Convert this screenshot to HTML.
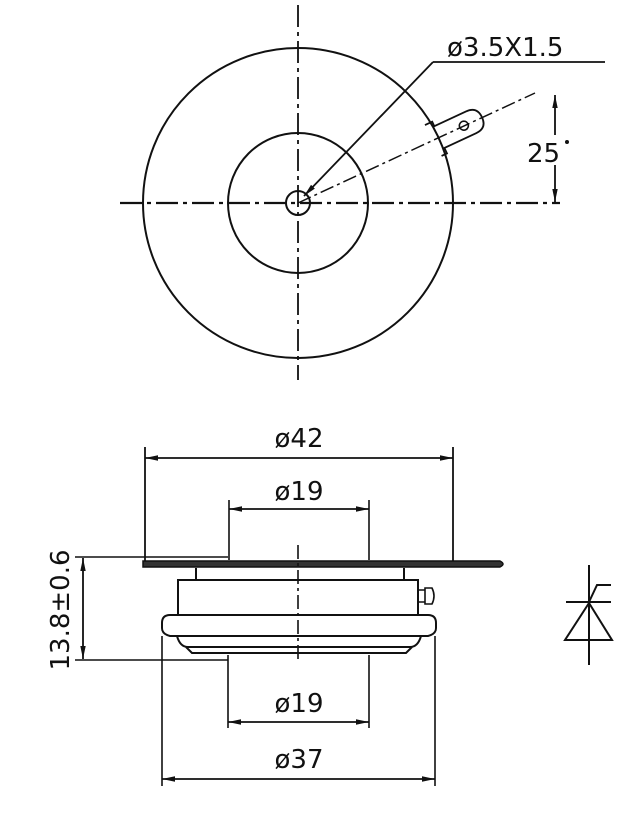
<!DOCTYPE html>
<html><head><meta charset="utf-8"><style>
html,body{margin:0;padding:0;background:#fff;}
svg{display:block;}
text{font-family:"DejaVu Sans","Liberation Sans",sans-serif;fill:#111;}
</style></head><body>
<svg width="644" height="834" viewBox="0 0 644 834" xmlns="http://www.w3.org/2000/svg">
<defs>
<marker id="a" markerWidth="13" markerHeight="8" refX="13" refY="4" orient="auto-start-reverse" markerUnits="userSpaceOnUse"><path d="M0,1.3 L13,4 L0,6.7 Z" fill="#111"/></marker>
</defs>
<g stroke="#111" fill="none" stroke-width="2">
<!-- top view -->
<circle cx="298" cy="203" r="155"/>
<circle cx="298" cy="203" r="70"/>
<circle cx="298" cy="203" r="12"/>
<line x1="120" y1="203" x2="560" y2="203" stroke-dasharray="22,5,4,5" stroke-width="2.2"/>
<line x1="298" y1="5" x2="298" y2="380" stroke-dasharray="22,5,4,5" stroke-width="1.8"/>
<line x1="298" y1="203" x2="535" y2="93" stroke-dasharray="14,4,3,4" stroke-width="1.5"/>
<g transform="rotate(-25 298 203)">
<path d="M446,186 L454,186 L454,191 L489,191 Q501,191 501,203 Q501,215 489,215 L454,215 L454,221 L448,221" stroke-width="1.8"/>
<circle cx="481" cy="203" r="4.5" stroke-width="1.6"/>
</g>
<!-- leader -->
<line x1="304" y1="196" x2="433" y2="62" marker-start="url(#a)" stroke-width="1.8"/>
<line x1="433" y1="62" x2="605" y2="62" stroke-width="1.8"/>
<!-- 25 dim -->
<line x1="555" y1="95" x2="555" y2="135" marker-start="url(#a)" stroke-width="1.8"/>
<line x1="555" y1="165" x2="555" y2="202" marker-end="url(#a)" stroke-width="1.8"/>
<!-- side view dims -->
<line x1="145" y1="447" x2="145" y2="565" stroke-width="1.8"/>
<line x1="453" y1="447" x2="453" y2="565" stroke-width="1.8"/>
<line x1="145" y1="458" x2="453" y2="458" marker-start="url(#a)" marker-end="url(#a)" stroke-width="1.8"/>
<line x1="229" y1="500" x2="229" y2="560" stroke-width="1.6"/>
<line x1="369" y1="500" x2="369" y2="560" stroke-width="1.6"/>
<line x1="229" y1="509" x2="369" y2="509" marker-start="url(#a)" marker-end="url(#a)" stroke-width="1.8"/>
<!-- flange -->
<path d="M143,561 L500,561 Q506,564 500,567 L143,567 Z" fill="#333" stroke-width="1.5"/>
<line x1="143" y1="557" x2="228" y2="557" stroke-width="1.6"/>
<line x1="75" y1="557" x2="143" y2="557" stroke-width="1.6"/>
<line x1="298" y1="545" x2="298" y2="660" stroke-dasharray="14,4,3,4" stroke-width="1.6"/>
<!-- body -->
<line x1="196" y1="568" x2="196" y2="580"/>
<line x1="404" y1="568" x2="404" y2="580"/>
<path d="M178,615 L178,580 L418,580 L418,615"/>
<path d="M418,590 L425,590 M418,602 L425,602 M425,588 L425,604 L432,604 Q436,596 432,588 Z" stroke-width="1.6"/>
<path d="M170,615 L428,615 Q436,615 436,623 L436,628 Q436,634 428,636 L170,636 Q162,634 162,628 L162,623 Q162,615 170,615 Z"/>
<path d="M177,636 Q180,647 188,647 L410,647 Q418,647 421,636"/>
<path d="M186,647 L192,653 L406,653 L412,647"/>
<!-- height dim -->
<line x1="75" y1="660" x2="228" y2="660" stroke-width="1.6"/>
<line x1="83" y1="558" x2="83" y2="659" marker-start="url(#a)" marker-end="url(#a)" stroke-width="1.8"/>
<!-- bottom dims -->
<line x1="162" y1="636" x2="162" y2="786" stroke-width="1.6"/>
<line x1="435" y1="636" x2="435" y2="786" stroke-width="1.6"/>
<line x1="162" y1="779" x2="435" y2="779" marker-start="url(#a)" marker-end="url(#a)" stroke-width="1.8"/>
<line x1="228" y1="655" x2="228" y2="728" stroke-width="1.6"/>
<line x1="369" y1="655" x2="369" y2="728" stroke-width="1.6"/>
<line x1="228" y1="722" x2="369" y2="722" marker-start="url(#a)" marker-end="url(#a)" stroke-width="1.8"/>
<!-- thyristor -->
<line x1="589" y1="565" x2="589" y2="665"/>
<line x1="566" y1="602" x2="611" y2="602"/>
<path d="M589,603 L565,640 L612,640 Z"/>
<path d="M589,602 L597,585 L611,585"/>
</g>
<text x="447" y="56" font-size="26">ø3.5X1.5</text>
<text x="527" y="162" font-size="26">25</text>
<circle cx="567" cy="142" r="2" fill="#111"/>
<text x="299" y="447" font-size="26" text-anchor="middle">ø42</text>
<text x="299" y="500" font-size="26" text-anchor="middle">ø19</text>
<text x="299" y="712" font-size="26" text-anchor="middle">ø19</text>
<text x="299" y="768" font-size="26" text-anchor="middle">ø37</text>
<text x="0" y="0" font-size="26" text-anchor="middle" transform="translate(69,610) rotate(-90)">13.8±0.6</text>
</svg>
</body></html>
